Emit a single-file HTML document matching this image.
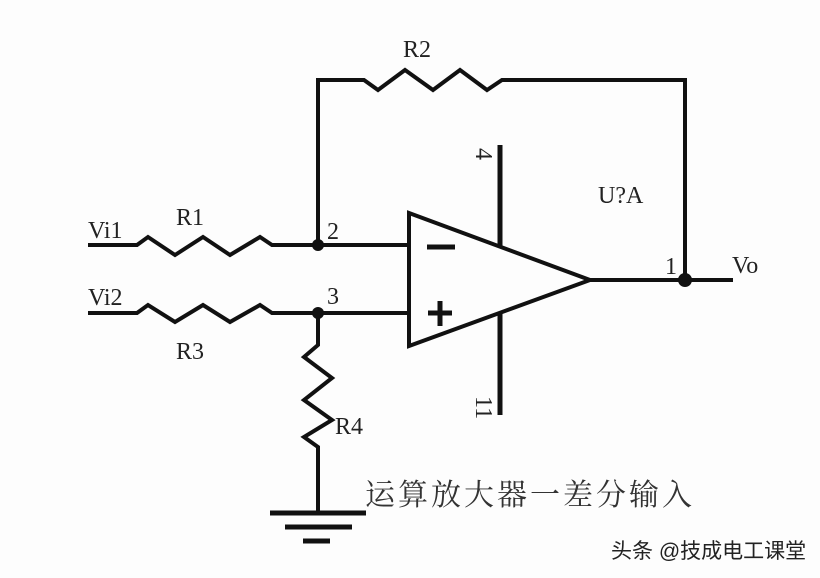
<!DOCTYPE html>
<html><head><meta charset="utf-8"><style>
html,body{margin:0;padding:0;background:#fff;}
svg{display:block}
text{font-family:"Liberation Serif","Noto Serif CJK SC",serif;fill:#222}
</style></head><body>
<svg width="820" height="578" viewBox="0 0 820 578" xmlns="http://www.w3.org/2000/svg">
<rect width="820" height="578" fill="#fdfdfd"/>
<g fill="none" stroke="#111" stroke-linejoin="miter" stroke-linecap="butt">
<polyline stroke-width="4" points="318,247 318,80 364,80 378,90 405,70 433,90 460,70 487,90 502,80 685,80 685,280"/>
<polyline stroke-width="4" points="88,245 137,245 148,237 175,255 203,237 230,255 260,237 272,245 409,245"/>
<polyline stroke-width="4" points="88,313 137,313 148,305 175,322 203,305 230,322 260,305 272,313 409,313"/>
<polyline stroke-width="4" points="318,313 318,345 304,357 332,378 304,400 332,420 304,437 318,447 318,513"/>
<line stroke-width="5" x1="270" y1="513" x2="366" y2="513"/>
<line stroke-width="5" x1="285" y1="527" x2="352" y2="527"/>
<line stroke-width="5" x1="303" y1="541" x2="330" y2="541"/>
<polygon stroke-width="4" points="409,213 409,346 590,280"/>
<line stroke-width="5" x1="427" y1="247" x2="455" y2="247"/>
<line stroke-width="5" x1="428" y1="313" x2="452" y2="313"/>
<line stroke-width="5" x1="440" y1="301" x2="440" y2="326"/>
<line stroke-width="5" x1="500" y1="145" x2="500" y2="246"/>
<line stroke-width="5" x1="500" y1="313" x2="500" y2="415"/>
<line stroke-width="4" x1="590" y1="280" x2="733" y2="280"/>
</g>
<g fill="#111">
<circle cx="318" cy="245" r="6"/>
<circle cx="318" cy="313" r="6"/>
<circle cx="685" cy="280" r="7"/>
</g>
<g font-size="24">
<text x="88" y="238">Vi1</text>
<text x="176" y="225">R1</text>
<text x="88" y="305">Vi2</text>
<text x="176" y="359">R3</text>
<text x="403" y="57">R2</text>
<text x="327" y="239">2</text>
<text x="327" y="304">3</text>
<text x="335" y="434">R4</text>
<text x="598" y="203">U?A</text>
<text x="665" y="274">1</text>
<text x="732" y="273">Vo</text>
<text x="0" y="0" transform="translate(476,148) rotate(90)">4</text>
<text x="0" y="0" transform="translate(476,396) rotate(90)">11</text>
</g>
<text x="365" y="505" font-size="30" letter-spacing="3" style="font-family:'Noto Serif CJK SC',serif;fill:#333">运算放大器一差分输入</text>
<text x="611" y="558" font-size="21" style="font-family:'Liberation Sans','Noto Sans CJK SC',sans-serif;fill:#222">头条 @技成电工课堂</text>
</svg>
</body></html>
